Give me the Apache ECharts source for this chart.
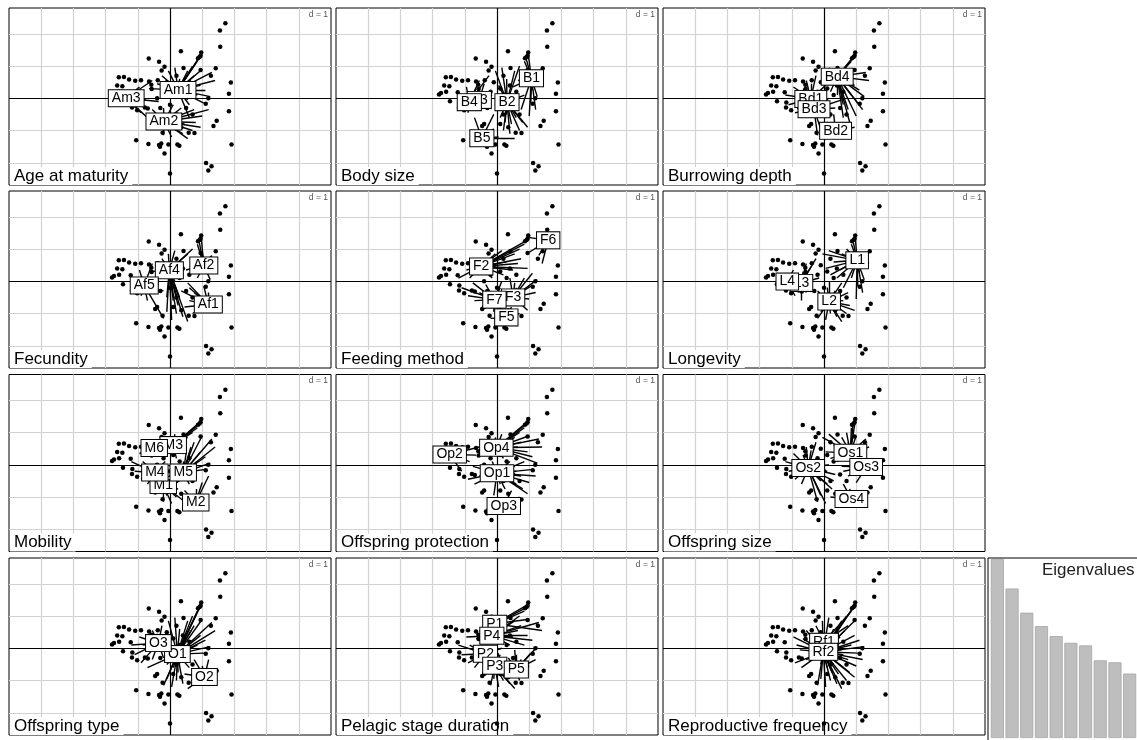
<!DOCTYPE html>
<html><head><meta charset="utf-8">
<script src="https://cdn.jsdelivr.net/npm/echarts@6/dist/echarts.min.js"></script>
<style>html,body{margin:0;padding:0;background:#fff}#c{width:1137px;height:740px}</style>
</head><body><div id="c"></div>
<script>
// ---------------- DATA ----------------
const traitNames = ['Age at maturity','Body size','Burrowing depth','Fecundity','Feeding method','Longevity',
  'Mobility','Offspring protection','Offspring size','Offspring type','Pelagic stage duration','Reproductive frequency'];

// species scores (dots), same in every panel
const speciesPoints = [
 [1.72,2.33],[1.55,2.10],[1.56,1.60],[0.34,1.46],[0.97,1.42],[0.92,1.28],[0.87,1.24],[0.95,1.32],
 [-0.66,1.23],[-0.34,1.13],[-0.17,0.98],[-0.26,0.86],[0.42,0.94],[1.42,0.93],[0.95,0.88],[1.27,0.70],
 [1.89,0.49],[1.83,0.14],[1.19,0.00],[1.11,-0.17],[1.83,-0.40],[1.45,-0.70],[1.35,-0.86],[1.91,-1.43],
 [1.12,-2.01],[1.29,-2.11],[1.19,-2.24],[0.00,-2.33],
 [-1.05,-1.30],[-0.67,-1.42],[-0.34,-1.45],[-0.27,-1.40],[-0.31,-1.50],[-0.05,-1.43],[-0.17,-1.71],
 [0.23,-1.43],[0.29,-1.47],[0.76,-1.08],[0.58,-1.07],[-0.23,-1.07],[-0.46,-0.86],[-0.40,-0.80],
 [-1.59,0.65],[-1.43,0.66],[-1.27,0.58],[-1.08,0.54],[-0.90,0.56],[-0.65,0.52],[-1.64,0.40],[-1.48,0.37],
 [-1.58,0.20],[-1.80,0.12],[-1.74,0.16],[-1.22,0.19],[-1.46,-0.09],[-1.17,-0.13],[-1.18,-0.29],[-1.02,-0.37],
 [-0.78,-0.29],[-0.69,-0.32],[-0.58,0.42],[-0.38,0.56],[-0.57,0.29],
 [0.10,0.30],[0.30,0.10],[-0.20,0.20],[0.50,-0.30],[0.20,-0.50],[0.00,-0.20],[0.40,0.40],[-0.30,-0.30],
 [0.60,0.20],[0.10,-0.80],[0.35,-0.90],[-0.10,0.50],[0.70,-0.50],[0.20,0.70],[-0.40,0.00]
];

// end points of the star segments (modality profiles)
const lineEnds = [
 [0.97,1.36],[0.90,1.25],[0.85,1.15],[0.70,1.00],[0.55,0.85],[1.00,0.90],[0.75,0.70],
 [1.25,0.05],[1.10,0.25],[1.05,-0.15],[0.95,0.40],[1.20,-0.35],[0.85,0.10],
 [0.95,-0.90],[0.80,-0.75],[0.70,-1.00],[0.60,-0.60],[1.00,-0.55],[0.55,-1.25],[0.40,-1.10],
 [0.20,-1.00],[0.05,-1.20],[-0.10,-0.95],[0.25,-0.75],[-0.20,-1.15],[0.10,-0.60],
 [-0.85,0.10],[-0.75,-0.05],[-0.65,0.30],[-0.90,-0.45],[-0.70,-0.60],[-0.55,-0.35],[-0.95,0.35],
 [-0.40,0.45],[-0.25,0.70],[-0.05,0.85],[0.15,0.95],[0.30,0.60],[-0.55,0.55],
 [0.20,0.20],[0.40,0.10],[0.10,-0.20],[0.35,-0.30],[-0.15,0.10],[0.50,0.35],[-0.20,-0.30],[0.30,-0.50],
 [0.60,-0.20],[0.05,0.40],[-0.35,-0.10],[0.45,-0.80],[0.65,0.55],[-0.10,-0.50],[0.15,0.00],
 [1.40,0.55],[1.30,0.80],[-1.20,0.10],[-1.10,-0.20],[0.75,-0.35],[0.55,-0.05]
];

const classLabels = [
 ['Am1','Am2','Am3'],
 ['B1','B2','B3','B4','B5'],
 ['Bd1','Bd2','Bd3','Bd4'],
 ['Af1','Af2','Af4','Af5'],
 ['F2','F3','F5','F6','F7'],
 ['L1','L2','L3','L4'],
 ['M1','M2','M3','M4','M5','M6'],
 ['Op1','Op2','Op3','Op4'],
 ['Os1','Os2','Os3','Os4'],
 ['O1','O2','O3'],
 ['P1','P2','P3','P4','P5'],
 ['Rf1','Rf2']
];
const classX = [
 [0.25,-0.19,-1.36],
 [1.07,0.31,-0.55,-0.86,-0.47],
 [-0.41,0.36,-0.31,0.41],
 [1.19,1.05,-0.02,-0.80],
 [-0.49,0.50,0.29,1.59,-0.08],
 [1.03,0.16,-0.70,-1.14],
 [-0.21,0.80,0.10,-0.47,0.41,-0.49],
 [0.00,-1.47,0.21,-0.02],
 [0.82,-0.49,1.31,0.85],
 [0.23,1.07,-0.36],
 [-0.07,-0.36,-0.07,-0.16,0.60],
 [0.00,-0.02]
];
const classY = [
 [0.26,-0.72,0.00],
 [0.62,-0.12,-0.05,-0.12,-1.24],
 [-0.02,-1.01,-0.34,0.67],
 [-0.72,0.49,0.34,-0.13],
 [0.46,-0.50,-1.12,1.27,-0.57],
 [0.65,-0.63,-0.05,-0.01],
 [-0.63,-1.17,0.61,-0.24,-0.24,0.52],
 [-0.26,0.32,-1.28,0.53],
 [0.37,-0.10,-0.07,-1.06],
 [-0.18,-0.89,0.16],
 [0.76,-0.17,-0.54,0.39,-0.66],
 [0.20,-0.11]
];
// modality (1-based) of each line end, per trait; 0 = none
const membership = [
 '1111111'+'111121'+'2221222'+'222222'+'3313323'+'111113'+'112211221132121'+'113321',
 '1112211'+'111112'+'2222152'+'255252'+'4344534'+'342224'+'222231322242152'+'114412',
 '4444444'+'444444'+'2424422'+'223233'+'1113331'+'114441'+'443314324112433'+'441143',
 '2223322'+'221212'+'1111133'+'333343'+'4434444'+'333334'+'333132431341233'+'224411',
 '4111141'+'222122'+'2232233'+'335535'+'1515551'+'111111'+'125211552153155'+'441522',
 '1111111'+'111111'+'2222122'+'222222'+'3334334'+'331113'+'112231221132122'+'114422',
 '3333355'+'555525'+'2225221'+'111111'+'4464446'+'663336'+'351545415342515'+'554455',
 '4444444'+'441411'+'1131133'+'331131'+'2121112'+'444442'+'411114111413411'+'442211',
 '1111111'+'333131'+'4444344'+'422222'+'2222222'+'221112'+'112221223124122'+'112233',
 '1111111'+'111121'+'2221221'+'111111'+'3333133'+'331113'+'111131311332111'+'113321',
 '1114414'+'545454'+'5555533'+'333333'+'2242224'+'411144'+'443524235425432'+'142255',
 '2212221'+'222222'+'2222222'+'222222'+'2222222'+'212222'+'222212222222222'+'000022'
];
const gridXValues = [-4,-3,-2,-1,1,2,3,4];
const gridYValues = [-2,-1,1,2];
const eigenvalues = [1.0,0.835,0.70,0.625,0.569,0.532,0.517,0.434,0.423,0.36];

// ---------------- LAYOUT ----------------
const colLeft = [9,336,663], rowTop = [8,191,374.5,558], PW = 322, PH = 177;
const XMIN = -5, XMAX = 5, YMIN = -2.69, YMAX = 2.80;
const FONT = 'Liberation Sans, Arial, Helvetica, sans-serif';

const grid = [], xAxis = [], yAxis = [], series = [], title = [];
for (let i = 0; i < 12; i++) {
  const r = Math.floor(i / 3), c = i % 3;
  const L = colLeft[c], T = rowTop[r];
  grid.push({left: L, top: T, width: PW, height: PH, show: true, borderColor: '#000', borderWidth: 1, backgroundColor: '#fff'});
  xAxis.push({gridIndex: i, type: 'value', min: XMIN, max: XMAX, show: false});
  yAxis.push({gridIndex: i, type: 'value', min: YMIN, max: YMAX, show: false});
  // grey grid
  series.push({type: 'scatter', xAxisIndex: i, yAxisIndex: i, data: [], z: 1, silent: true,
    markLine: {silent: true, z: 1, symbol: ['none','none'], label: {show: false}, animation: false,
      lineStyle: {color: '#d2d2d2', width: 1.2, type: 'solid'},
      data: gridXValues.map(v => ({xAxis: v})).concat(gridYValues.map(v => ({yAxis: v})))}});
  // zero axes
  series.push({type: 'scatter', xAxisIndex: i, yAxisIndex: i, data: [], z: 4, silent: true,
    markLine: {silent: true, z: 4, symbol: ['none','none'], label: {show: false}, animation: false,
      lineStyle: {color: '#000', width: 1.2, type: 'solid'},
      data: [{xAxis: 0}, {yAxis: 0}]}});
  // star segments
  const segs = [];
  const m = membership[i];
  for (let k = 0; k < lineEnds.length; k++) {
    const g = parseInt(m[k], 10);
    if (!g) continue;
    segs.push({coords: [[classX[i][g-1], classY[i][g-1]], lineEnds[k]]});
  }
  series.push({type: 'lines', coordinateSystem: 'cartesian2d', xAxisIndex: i, yAxisIndex: i, z: 5, silent: true,
    lineStyle: {color: '#000', width: 1.4, opacity: 1}, data: segs});
  // species dots
  series.push({type: 'scatter', xAxisIndex: i, yAxisIndex: i, z: 5, silent: true, symbolSize: 4.5,
    itemStyle: {color: '#000', opacity: 1}, data: speciesPoints});
  // modality labels
  series.push({type: 'scatter', xAxisIndex: i, yAxisIndex: i, z: 6, silent: true, symbolSize: 0,
    itemStyle: {color: '#000', opacity: 1},
    label: {show: true, position: 'inside', formatter: '{b}', color: '#000', fontSize: 14, fontFamily: FONT,
      backgroundColor: '#fff', borderColor: '#000', borderWidth: 1, padding: [1, 3, 1, 3], lineHeight: 14, opacity: 1},
    labelLayout: {hideOverlap: false},
    data: classLabels[i].map((n, j) => ({name: n, value: [classX[i][j], classY[i][j]]}))});
  title.push({text: traitNames[i], left: L + 1, top: T + PH - 18, padding: [0, 4, 0, 4], backgroundColor: '#fff', z: 3,
    textStyle: {fontSize: 17, fontWeight: 'normal', color: '#000', fontFamily: FONT, lineHeight: 18}});
  title.push({text: 'd = 1', right: 1137 - (L + PW) + 1, top: T + 1, padding: [1, 2, 1, 2], backgroundColor: '#fff', z: 3,
    textStyle: {fontSize: 8.5, fontWeight: 'normal', color: '#555', fontFamily: FONT, lineHeight: 9}});
}
// eigenvalue inset
grid.push({left: 990, top: 559, width: 147, height: 179});
xAxis.push({gridIndex: 12, type: 'category', data: eigenvalues.map((v, k) => String(k + 1)), show: false});
yAxis.push({gridIndex: 12, type: 'value', min: 0, max: eigenvalues[0], show: false});
series.push({type: 'bar', xAxisIndex: 12, yAxisIndex: 12, data: eigenvalues, barCategoryGap: '11%', silent: true,
  itemStyle: {color: '#bebebe', borderColor: '#a6a6a6', borderWidth: 0.8}});
title.push({text: 'Eigenvalues', left: 1042, top: 562, padding: 0, z: 3,
  textStyle: {fontSize: 17, fontWeight: 'normal', color: '#222', fontFamily: FONT}});

const chart = echarts.init(document.getElementById('c'), null, {renderer: 'canvas'});
chart.setOption({
  animation: false,
  backgroundColor: '#fff',
  title, grid, xAxis, yAxis, series,
  graphic: [{type: 'rect', shape: {x: 988, y: 558, width: 200, height: 200}, style: {fill: 'none', stroke: '#000', lineWidth: 1}, z: 10, silent: true}]
});
</script></body></html>
